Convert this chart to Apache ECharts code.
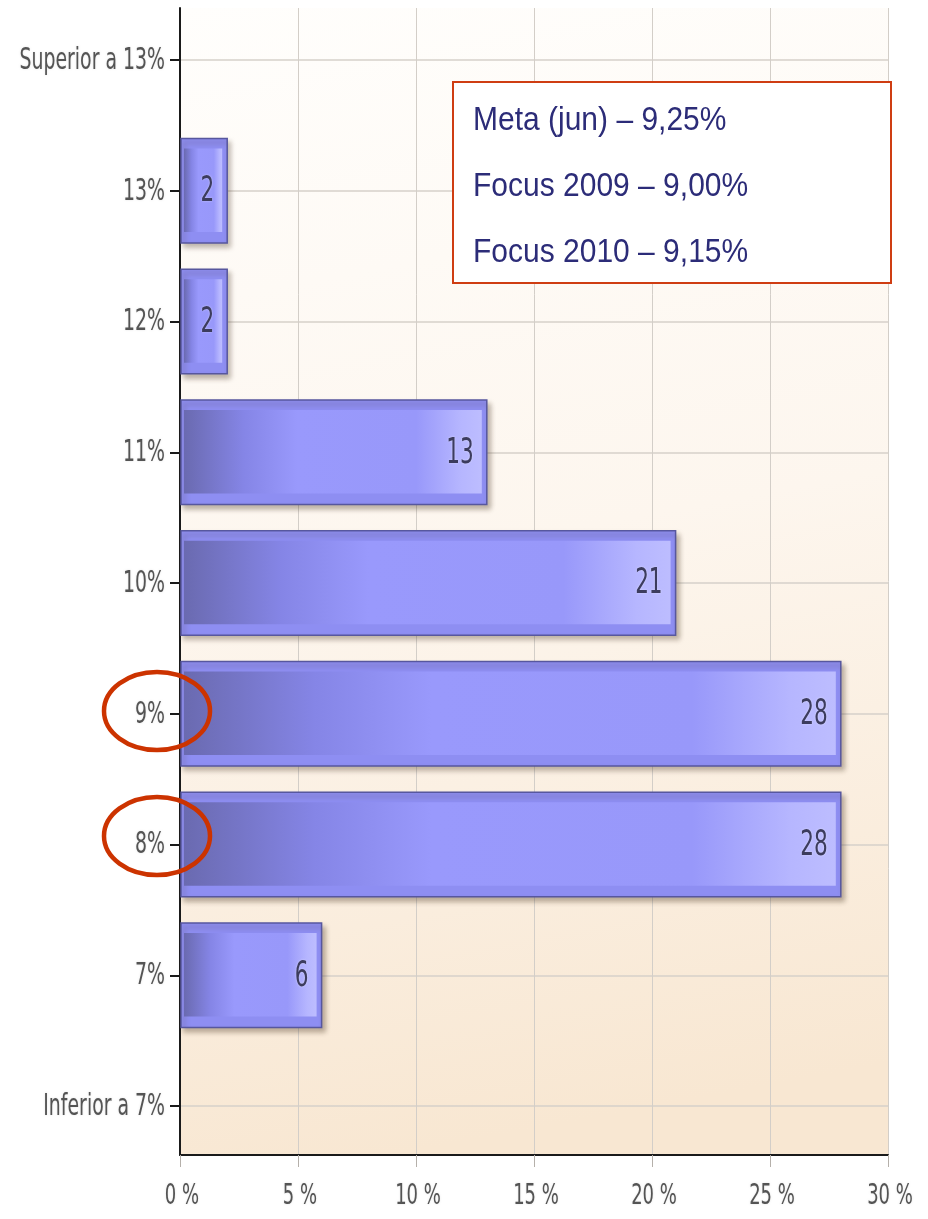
<!DOCTYPE html>
<html>
<head>
<meta charset="utf-8">
<script src="https://cdn.jsdelivr.net/npm/echarts@6/dist/echarts.min.js"></script>
<style>
  html, body { margin: 0; padding: 0; background: #fff; }
  #chart { width: 928px; height: 1219px; }
</style>
</head>
<body>
<div id="chart"></div>
<script>
// faixas da taxa (de baixo para cima, como o eixo de categorias do echarts)
const categories = ['Inferior a 7%', '7%', '8%', '9%', '10%', '11%', '12%', '13%', 'Superior a 13%'];
const respostas = [0, 6, 28, 28, 21, 13, 2, 2, 0];
const xTicks = [0, 5, 10, 15, 20, 25, 30];
const notas = ['Meta (jun) – 9,25%', 'Focus 2009 – 9,00%', 'Focus 2010 – 9,15%'];
const destaques = ['9%', '8%'];

const NARROW = "'Liberation Sans Narrow', 'DejaVu Sans Condensed', 'Arial Narrow', sans-serif";

const innerGradient = new echarts.graphic.LinearGradient(0, 0, 1, 0, [
  { offset: 0, color: '#6a6ab0' },
  { offset: 0.2, color: '#8585e6' },
  { offset: 0.38, color: '#9999fc' },
  { offset: 0.78, color: '#9898fa' },
  { offset: 0.93, color: '#b6b6ff' },
  { offset: 1, color: '#bdbdff' }
]);

const axisText = {
  fill: '#545454',
  verticalAlign: 'middle',
  textShadowColor: 'rgba(0,0,0,0.12)',
  textShadowBlur: 2
};

/**
 * barra com moldura, gradiente e rótulo
 */
function renderBar(params, api) {
  const v = api.value(0);
  const idx = api.value(1);
  if (!v) return null;
  const end = api.coord([v, idx]);
  const start = api.coord([0, idx]);
  const h = api.size([0, 1])[1] * 0.8;
  const x = start[0] + 1;
  const y = end[1] - h / 2;
  const w = end[0] - x;
  return {
    type: 'group',
    children: [
      {
        type: 'rect',
        shape: { x: x, y: y, width: w, height: h },
        style: {
          fill: '#8e8ef2',
          stroke: '#57579e',
          lineWidth: 1.5,
          shadowBlur: 5,
          shadowOffsetX: 3,
          shadowOffsetY: 4,
          shadowColor: 'rgba(70,50,30,0.35)'
        }
      },
      {
        type: 'rect',
        shape: { x: x + 3, y: y + 10, width: w - 8, height: h - 21 },
        style: { fill: innerGradient }
      },
      {
        type: 'text',
        x: end[0] - 13,
        y: end[1] + 1,
        scaleY: 1.5,
        style: {
          text: String(v),
          font: '24px ' + NARROW,
          fill: '#3c3c5e',
          align: 'right',
          verticalAlign: 'middle',
          textShadowColor: 'rgba(255,255,255,0.5)',
          textShadowBlur: 2
        }
      }
    ]
  };
}

/**
 * rótulos das faixas, esticados na vertical como no original
 */
function renderCategoryLabel(params, api) {
  const p = api.coord([0, api.value(1)]);
  return {
    type: 'text',
    x: p[0] - 15,
    y: p[1] + 1,
    scaleY: 1.45,
    style: Object.assign({
      text: categories[params.dataIndex],
      font: '21px ' + NARROW,
      align: 'right'
    }, axisText)
  };
}

/**
 * rótulos do eixo x (mesma fonte estreita e esticada)
 */
function renderTickLabel(params, api) {
  const p = api.coord([api.value(0), 0]);
  return {
    type: 'text',
    x: p[0] + 2,
    y: p[1] + 41,
    scaleY: 1.45,
    style: Object.assign({
      text: xTicks[params.dataIndex] + ' %',
      font: '20px ' + NARROW,
      align: 'center'
    }, axisText)
  };
}

const chart = echarts.init(document.getElementById('chart'), null, { renderer: 'canvas' });

const option = {
  animation: false,
  backgroundColor: '#ffffff',
  grid: [
    {
      left: 180, right: 40, top: 8, bottom: 64,
      containLabel: false,
      outerBoundsMode: 'none',
      show: true,
      borderWidth: 0,
      backgroundColor: new echarts.graphic.LinearGradient(0, 0, 0.3, 1, [
        { offset: 0, color: '#fffefc' },
        { offset: 0.5, color: '#fdf6ee' },
        { offset: 1, color: '#f8e7d2' }
      ])
    },
    {
      left: 180, right: 40, top: 60, bottom: 113,
      containLabel: false,
      outerBoundsMode: 'none'
    }
  ],
  xAxis: [
    {
      gridIndex: 0,
      type: 'value',
      min: xTicks[0],
      max: xTicks[xTicks.length - 1],
      interval: xTicks[1] - xTicks[0],
      axisLine: { show: true, lineStyle: { color: '#1a1a1a', width: 2 } },
      axisTick: { show: true, length: 12, lineStyle: { color: '#b5b0aa' } },
      splitLine: { show: true, lineStyle: { color: '#d3cec8', width: 1 } },
      axisLabel: { show: false }
    },
    {
      gridIndex: 1,
      type: 'value',
      min: xTicks[0],
      max: xTicks[xTicks.length - 1],
      show: false
    }
  ],
  yAxis: [
    {
      gridIndex: 0,
      type: 'value',
      min: 0,
      max: 1,
      axisLine: { show: true, lineStyle: { color: '#1a1a1a', width: 2 } },
      axisTick: { show: false },
      axisLabel: { show: false },
      splitLine: { show: false }
    },
    {
      gridIndex: 1,
      type: 'category',
      data: categories,
      boundaryGap: false,
      axisLine: { show: false },
      axisTick: { show: true, length: 10, lineStyle: { color: '#1a1a1a', width: 2 } },
      splitLine: { show: true, lineStyle: { color: '#d6d0ca', width: 1.5 } },
      axisLabel: { show: false }
    }
  ],
  series: [
    {
      type: 'custom',
      xAxisIndex: 1,
      yAxisIndex: 1,
      z: 5,
      renderItem: renderBar,
      encode: { x: 0, y: 1 },
      data: respostas.map((v, i) => [v, i])
    },
    {
      type: 'custom',
      xAxisIndex: 1,
      yAxisIndex: 1,
      z: 5,
      clip: false,
      silent: true,
      renderItem: renderCategoryLabel,
      encode: { x: 0, y: 1 },
      data: categories.map((c, i) => [0, i])
    },
    {
      type: 'custom',
      xAxisIndex: 0,
      yAxisIndex: 0,
      z: 5,
      clip: false,
      silent: true,
      renderItem: renderTickLabel,
      encode: { x: 0, y: 1 },
      data: xTicks.map(t => [t, 0])
    }
  ],
  graphic: [
    {
      type: 'rect',
      z: 100,
      shape: { x: 453, y: 82, width: 438, height: 201 },
      style: { fill: '#ffffff', stroke: '#cf3d12', lineWidth: 2 }
    },
    ...notas.map((t, i) => ({
      type: 'text',
      z: 101,
      x: 473,
      y: 121 + i * 66,
      scaleY: 1.08,
      style: {
        text: t,
        font: '30px "Liberation Sans", Arial, sans-serif',
        fill: '#2c2c78',
        verticalAlign: 'middle'
      }
    })),
    ...destaques.map((c, i) => ({
      type: 'ellipse',
      z: 100,
      shape: { cx: 157, cy: i === 0 ? 711 : 836, rx: 53, ry: 39 },
      style: { fill: 'none', stroke: '#cc3300', lineWidth: 4.5 }
    }))
  ]
};

chart.setOption(option);
</script>
</body>
</html>
